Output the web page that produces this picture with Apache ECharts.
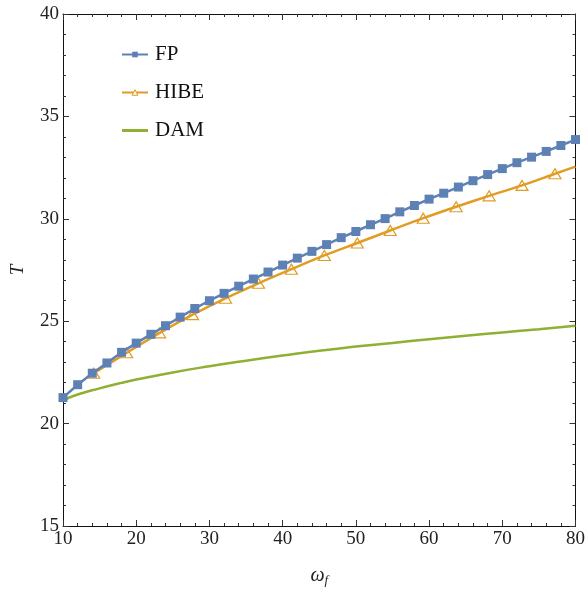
<!DOCTYPE html>
<html>
<head>
<meta charset="utf-8">
<script src="https://cdn.jsdelivr.net/npm/echarts@6/dist/echarts.min.js"></script>
<style>html,body{margin:0;padding:0;background:#fff}#c{width:588px;height:592px}</style>
</head>
<body>
<div id="c"></div>
<script>
const fpX = [10,12,14,16,18,20,22,24,26,28,30,32,34,36,38,40,42,44,46,48,50,52,54,56,58,60,62,64,66,68,70,72,74,76,78,80];
const fpY = [21.27,21.9,22.46,22.96,23.48,23.93,24.36,24.78,25.2,25.62,26.0,26.36,26.71,27.06,27.4,27.74,28.08,28.41,28.74,29.08,29.38,29.71,30.01,30.34,30.65,30.96,31.25,31.55,31.86,32.16,32.45,32.74,33.01,33.29,33.58,33.87];
const hibeX = [14.2,18.7,23.2,27.7,32.2,36.7,41.2,45.7,50.2,54.7,59.2,63.7,68.2,72.7,77.2,80];
const hibeY = [22.46,23.46,24.43,25.32,26.12,26.85,27.54,28.21,28.82,29.43,30.03,30.59,31.12,31.63,32.2,32.55];
const damX = [10,12,15,18,20,25,30,35,40,45,50,55,60,65,70,75,80];
const damY = [21.14,21.42,21.72,21.99,22.15,22.5,22.8,23.07,23.32,23.56,23.76,23.94,24.12,24.29,24.45,24.61,24.78];
const xTicks = [10,20,30,40,50,60,70,80];
const yTicks = [15,20,25,30,35,40];

const FONT = "'Liberation Serif', 'Times New Roman', Times, serif";
const C_FP = '#5E81B5', C_HIBE = '#E19C24', C_DAM = '#8FB032';
const zip = (xs, ys) => xs.map((x, i) => [x, ys[i]]);

const hibeData = zip(hibeX, hibeY).map((p, i) =>
  i === hibeX.length - 1 ? {value: p, symbol: 'none'} : p);

const axisCommon = {
  axisLine: {show: true, lineStyle: {color: '#111', width: 1}},
  axisTick: {show: true, inside: true, length: 6, lineStyle: {color: '#333'}},
  minorTick: {show: true, splitNumber: 5, length: 3, lineStyle: {color: '#333'}},
  splitLine: {show: false},
  minorSplitLine: {show: false}
};

const chart = echarts.init(document.getElementById('c'), null, {renderer: 'canvas'});
chart.setOption({
  animation: false,
  backgroundColor: '#fff',
  grid: {left: 59, right: 11, top: 14, bottom: 60, containLabel: false},
  legend: {
    left: 116, top: 39, orient: 'vertical', itemGap: 17,
    itemWidth: 26, itemHeight: 7,
    textStyle: {fontFamily: FONT, fontSize: 21, color: '#111', lineHeight: 20, padding: [0,0,0,2]},
    data: [
      {name: 'FP'},
      {name: 'HIBE', itemStyle: {color: '#fff', borderColor: C_HIBE, borderWidth: 1}},
      {name: 'DAM', icon: 'path://M0,0H26V3H0Z', itemStyle: {color: C_DAM}}
    ]
  },
  xAxis: [
    Object.assign({}, axisCommon, {
      type: 'value', position: 'bottom', min: 10, max: 80, interval: 10,
      name: '{w|ω}{s|f}', nameLocation: 'middle', nameGap: 38,
      nameTextStyle: {rich: {
        w: {fontFamily: FONT, fontStyle: 'italic', fontSize: 20, color: '#222'},
        s: {fontFamily: FONT, fontStyle: 'italic', fontSize: 13, color: '#222', verticalAlign: 'bottom', padding: [10,0,0,0]}
      }},
      axisLabel: {fontFamily: FONT, fontSize: 19, color: '#222', margin: 4,
        formatter: v => xTicks.includes(v) ? String(v) : ''}
    }),
    Object.assign({}, axisCommon, {
      type: 'value', position: 'top', min: 10, max: 80, interval: 10,
      axisLabel: {show: false}
    })
  ],
  yAxis: [
    Object.assign({}, axisCommon, {
      type: 'value', position: 'left', min: 15, max: 40, interval: 5,
      name: 'T', nameLocation: 'middle', nameGap: 36, nameRotate: 90,
      nameTextStyle: {fontFamily: FONT, fontStyle: 'italic', fontSize: 19, color: '#222'},
      axisLabel: {fontFamily: FONT, fontSize: 19, color: '#222', margin: 4,
        formatter: v => yTicks.includes(v) ? String(v) : ''}
    }),
    Object.assign({}, axisCommon, {
      type: 'value', position: 'right', min: 15, max: 40, interval: 5,
      axisLabel: {show: false}
    })
  ],
  series: [
    {
      name: 'FP', type: 'line', data: zip(fpX, fpY),
      symbol: 'rect', symbolSize: 9, showSymbol: true,
      lineStyle: {color: C_FP, width: 2.5}, itemStyle: {color: C_FP},
      z: 3
    },
    {
      name: 'HIBE', type: 'line', data: hibeData, smooth: 0.3,
      symbol: 'triangle', symbolSize: [12, 10], showSymbol: true,
      lineStyle: {color: C_HIBE, width: 2.5},
      itemStyle: {color: 'rgba(255,255,255,0)', borderColor: C_HIBE, borderWidth: 1.2},
      z: 2
    },
    {
      name: 'DAM', type: 'line', data: zip(damX, damY), smooth: true,
      symbol: 'none', showSymbol: false,
      lineStyle: {color: C_DAM, width: 2.5}, itemStyle: {color: C_DAM},
      z: 1
    }
  ]
});
</script>
</body>
</html>
